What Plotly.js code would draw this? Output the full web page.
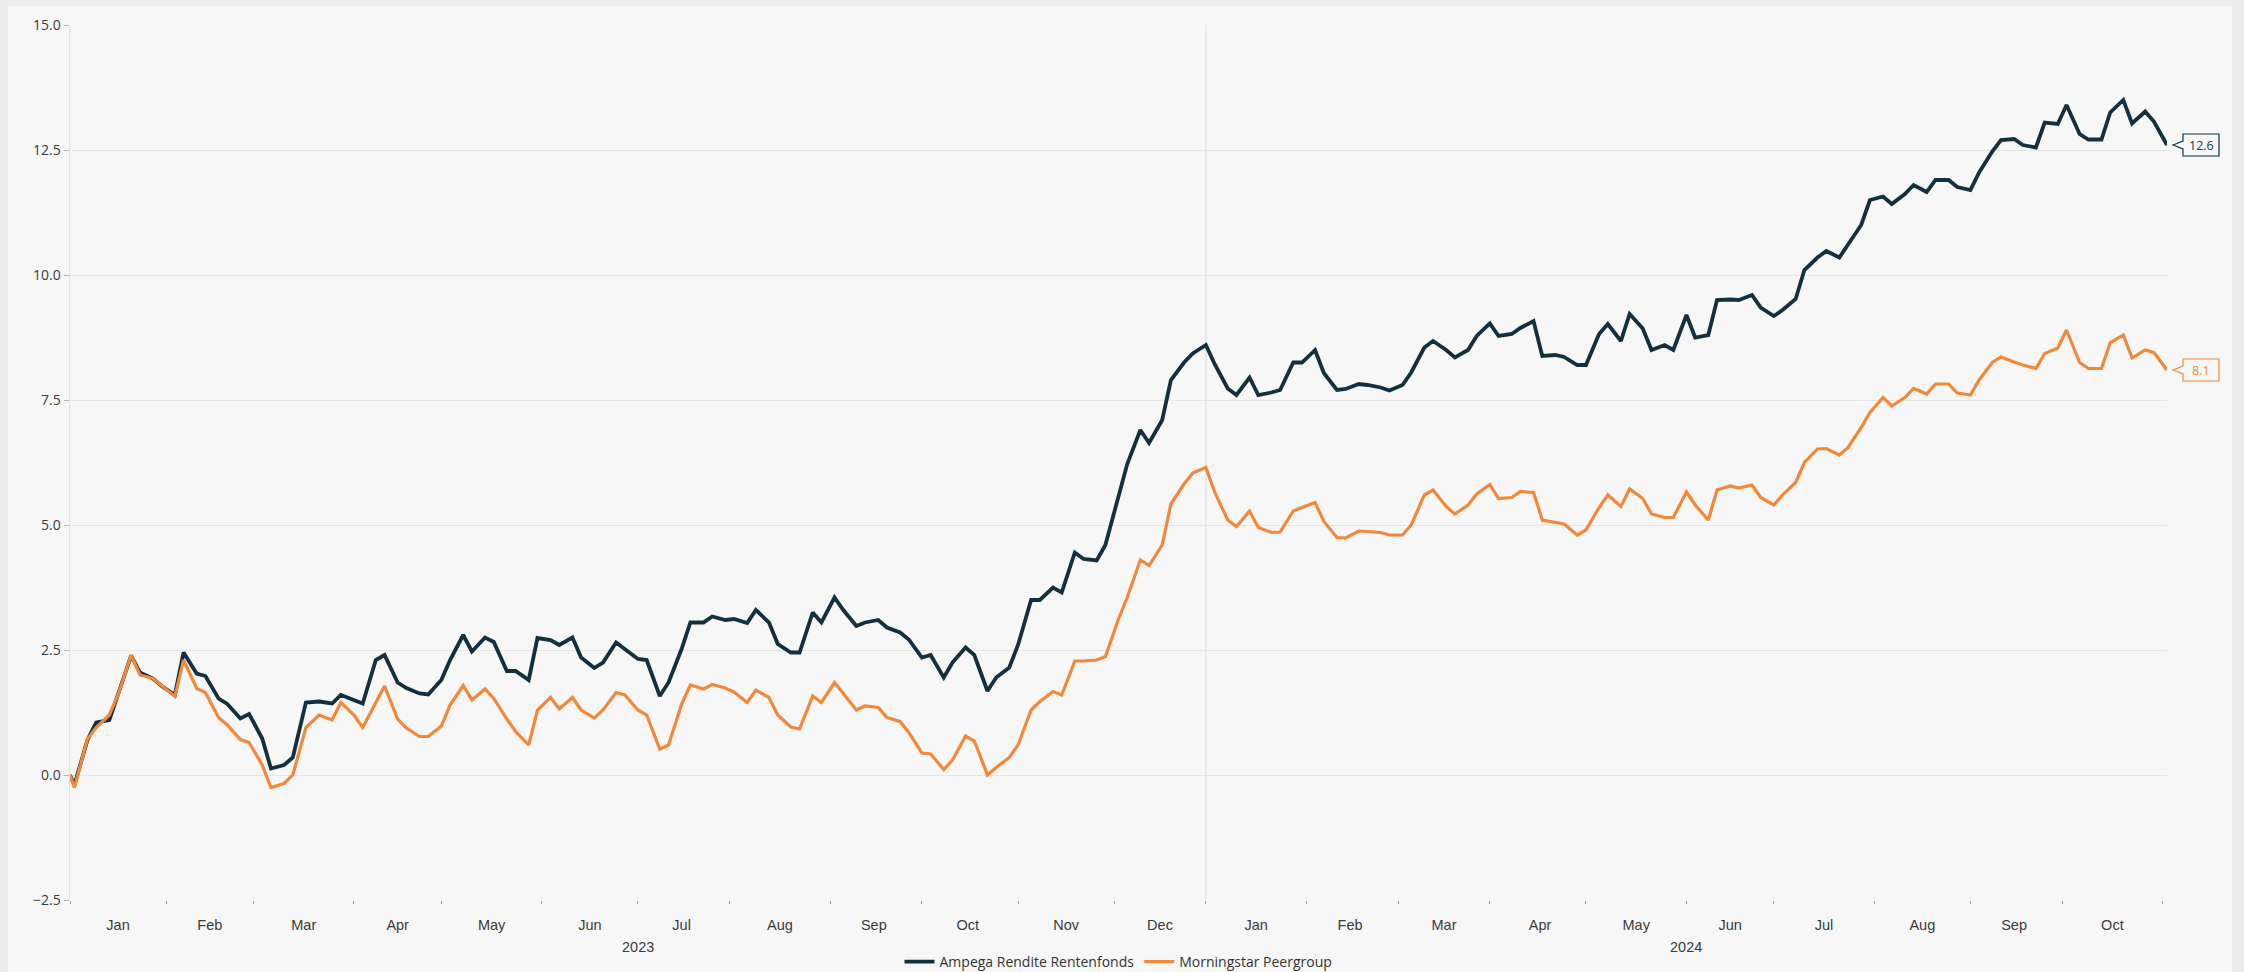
<!DOCTYPE html>
<html>
<head>
<meta charset="utf-8">
<script src="https://cdn.plot.ly/plotly-3.0.1.min.js"></script>
<style>
  html, body { margin: 0; padding: 0; background: #ebebeb; width: 2244px; height: 972px; overflow: hidden; }
  #chart { position: absolute; left: 8px; top: 6px; width: 2224px; height: 966px; }
</style>
</head>
<body>
<div id="chart"></div>
<script>
// Observation dates (weekdays)
const dates = [
  "2023-01-02","2023-01-03","2023-01-06","2023-01-10","2023-01-13","2023-01-17","2023-01-20","2023-01-24","2023-01-27",
  "2023-01-31","2023-02-03","2023-02-07","2023-02-10","2023-02-14","2023-02-17","2023-02-21","2023-02-24",
  "2023-02-28","2023-03-03","2023-03-07","2023-03-10","2023-03-14","2023-03-17",
  "2023-03-22","2023-03-27","2023-03-29","2023-04-03","2023-04-05","2023-04-10","2023-04-12","2023-04-17",
  "2023-04-19","2023-04-24","2023-04-26","2023-05-01","2023-05-03","2023-05-08","2023-05-10","2023-05-15",
  "2023-05-17","2023-05-22","2023-05-24","2023-05-29","2023-05-31","2023-06-05","2023-06-07","2023-06-12",
  "2023-06-14","2023-06-19","2023-06-21","2023-06-26","2023-06-28","2023-07-03","2023-07-05","2023-07-10",
  "2023-07-12","2023-07-17","2023-07-19","2023-07-24","2023-07-26","2023-07-31","2023-08-02","2023-08-07",
  "2023-08-09","2023-08-14","2023-08-16","2023-08-21","2023-08-23","2023-08-28","2023-08-30","2023-09-04",
  "2023-09-06","2023-09-11","2023-09-13","2023-09-18","2023-09-20","2023-09-25","2023-09-27","2023-10-02",
  "2023-10-04","2023-10-09","2023-10-11","2023-10-16","2023-10-18","2023-10-23","2023-10-25","2023-10-30",
  "2023-11-01","2023-11-06","2023-11-08","2023-11-13","2023-11-15","2023-11-20","2023-11-22","2023-11-27",
  "2023-11-29","2023-12-04","2023-12-06","2023-12-11","2023-12-13","2023-12-18","2023-12-20","2023-12-25",
  "2023-12-27","2024-01-01","2024-01-03","2024-01-08","2024-01-10","2024-01-15","2024-01-17","2024-01-22",
  "2024-01-24","2024-01-29","2024-01-31","2024-02-05","2024-02-07","2024-02-12","2024-02-14","2024-02-19",
  "2024-02-21","2024-02-26","2024-02-28","2024-03-04","2024-03-06","2024-03-11","2024-03-13","2024-03-18",
  "2024-03-20","2024-03-25","2024-03-27","2024-04-01","2024-04-03","2024-04-08","2024-04-10","2024-04-15",
  "2024-04-17","2024-04-22","2024-04-24","2024-04-29","2024-05-01","2024-05-06","2024-05-08","2024-05-13",
  "2024-05-15","2024-05-20","2024-05-22","2024-05-27","2024-05-29","2024-06-03","2024-06-05","2024-06-10",
  "2024-06-12","2024-06-17","2024-06-19","2024-06-24","2024-06-26","2024-07-01","2024-07-03","2024-07-08",
  "2024-07-10","2024-07-15","2024-07-17","2024-07-22","2024-07-24","2024-07-29","2024-07-31","2024-08-05",
  "2024-08-07","2024-08-12","2024-08-14","2024-08-19","2024-08-21","2024-08-26","2024-08-28","2024-09-02",
  "2024-09-04","2024-09-09","2024-09-11","2024-09-16","2024-09-18","2024-09-23","2024-09-25","2024-09-30",
  "2024-10-02","2024-10-07","2024-10-09","2024-10-14","2024-10-16","2024-10-21","2024-10-23","2024-10-28",
  "2024-10-30","2024-11-04"
];

// Cumulative performance in % – Ampega Rendite Rentenfonds
const ampega = [
  0.0,-0.2,0.7,1.05,1.1,1.62,2.39,2.05,1.93,
  1.78,1.6,2.45,2.03,1.98,1.53,1.42,1.13,
  1.22,0.73,0.13,0.2,0.35,1.45,
  1.47,1.43,1.6,1.5,1.43,2.3,2.4,1.85,
  1.74,1.63,1.61,1.9,2.3,2.8,2.47,2.75,
  2.66,2.08,2.08,1.9,2.74,2.7,2.6,2.75,
  2.35,2.14,2.25,2.65,2.52,2.32,2.3,1.58,
  1.85,2.52,3.05,3.05,3.17,3.1,3.12,3.04,
  3.3,3.05,2.62,2.45,2.45,3.25,3.05,3.55,
  3.3,2.98,3.05,3.1,2.95,2.85,2.71,2.35,
  2.4,1.95,2.25,2.55,2.4,1.68,1.95,2.15,
  2.6,3.5,3.5,3.75,3.65,4.45,4.32,4.29,
  4.6,5.55,6.22,6.9,6.64,7.1,7.9,8.25,
  8.43,8.6,8.22,7.73,7.6,7.95,7.6,7.65,
  7.7,8.25,8.25,8.5,8.04,7.7,7.72,7.82,
  7.8,7.75,7.69,7.8,8.05,8.55,8.68,8.5,
  8.35,8.5,8.78,9.03,8.78,8.82,8.94,9.08,
  8.38,8.4,8.36,8.2,8.2,8.82,9.02,8.68,
  9.22,8.93,8.5,8.6,8.5,9.2,8.75,8.8,
  9.5,9.51,9.5,9.6,9.35,9.18,9.3,9.52,
  10.1,10.35,10.48,10.35,10.6,11.0,11.5,11.57,
  11.42,11.62,11.8,11.66,11.9,11.9,11.76,11.7,
  12.05,12.47,12.7,12.72,12.6,12.55,13.05,13.02,
  13.4,12.82,12.71,12.71,13.25,13.5,13.03,13.27,
  13.07,12.6
];

// Cumulative performance in % – Morningstar Peergroup
const peergroup = [
  0.0,-0.25,0.72,0.95,1.2,1.6,2.4,2.0,1.93,
  1.78,1.57,2.3,1.73,1.65,1.15,1.0,0.71,
  0.65,0.2,-0.25,-0.17,0.0,0.95,
  1.2,1.1,1.45,1.2,0.95,1.45,1.78,1.12,
  0.94,0.77,0.77,0.98,1.4,1.79,1.5,1.72,
  1.53,1.12,0.87,0.6,1.3,1.55,1.32,1.55,
  1.3,1.14,1.3,1.65,1.6,1.3,1.2,0.52,
  0.6,1.42,1.8,1.72,1.81,1.74,1.66,1.45,
  1.7,1.55,1.2,0.96,0.92,1.58,1.45,1.85,
  1.62,1.3,1.38,1.35,1.15,1.07,0.85,0.44,
  0.42,0.11,0.3,0.78,0.68,0.0,0.15,0.35,
  0.6,1.3,1.47,1.67,1.6,2.28,2.28,2.3,
  2.37,3.12,3.55,4.3,4.19,4.6,5.42,5.82,
  6.04,6.15,5.66,5.1,4.97,5.28,4.95,4.85,
  4.86,5.28,5.35,5.45,5.07,4.75,4.74,4.88,
  4.87,4.85,4.8,4.8,5.0,5.6,5.7,5.37,
  5.22,5.4,5.62,5.81,5.53,5.55,5.67,5.65,
  5.1,5.06,5.02,4.8,4.9,5.35,5.6,5.37,
  5.72,5.53,5.22,5.15,5.15,5.66,5.4,5.1,
  5.7,5.78,5.74,5.8,5.55,5.4,5.6,5.85,
  6.25,6.52,6.53,6.4,6.55,6.95,7.25,7.55,
  7.38,7.55,7.73,7.62,7.82,7.82,7.64,7.6,
  7.9,8.25,8.36,8.26,8.2,8.13,8.43,8.54,
  8.9,8.25,8.13,8.13,8.65,8.8,8.34,8.5,
  8.45,8.1
];

const seriesNames = ["Ampega Rendite Rentenfonds", "Morningstar Peergroup"];

// Month boundaries (first weekday of each month) – tick marks
const monthStarts = [
  "2023-01-02","2023-02-01","2023-03-01","2023-04-03","2023-05-01","2023-06-01","2023-07-03","2023-08-01",
  "2023-09-01","2023-10-02","2023-11-01","2023-12-01","2024-01-01","2024-02-01","2024-03-01","2024-04-01",
  "2024-05-01","2024-06-03","2024-07-01","2024-08-01","2024-09-02","2024-10-01","2024-11-01"
];
// Month label positions (middle of each month's weekdays) and texts
const monthCenters = [
  "2023-01-17","2023-02-15","2023-03-16 12:00","2023-04-17","2023-05-16 12:00","2023-06-16","2023-07-17","2023-08-16 12:00",
  "2023-09-15","2023-10-16 12:00","2023-11-16","2023-12-15 12:00","2024-01-16 12:00","2024-02-15","2024-03-15 12:00","2024-04-16 12:00",
  "2024-05-16 12:00","2024-06-17","2024-07-16 12:00","2024-08-16","2024-09-16","2024-10-16 12:00"
];
const monthLabels = [
  "Jan","Feb","Mar","Apr","May","Jun","Jul","Aug","Sep","Oct","Nov","Dec",
  "Jan","Feb","Mar","Apr","May","Jun","Jul","Aug","Sep","Oct"
];
const yearLabels = ["2023", "2024"];
const yearCenters = ["2023-07-01", "2024-06-03"];
const yearDivider = "2024-01-01";

const yMin = -2.5, yMax = 15;

const navy = "#13303f";
const orange = "#f3873a";
const font = "'Open Sans', 'Liberation Sans', sans-serif";
const labelFont = "'Liberation Sans', Arial, sans-serif";

const firstDate = dates[0];
const lastDate = dates[dates.length - 1];
const lastA = ampega[ampega.length - 1];
const lastP = peergroup[peergroup.length - 1];

const traces = [
  { x: dates, y: ampega, name: seriesNames[0], type: "scatter", mode: "lines",
    line: { color: navy, width: 3.8, shape: "linear" } },
  { x: dates, y: peergroup, name: seriesNames[1], type: "scatter", mode: "lines",
    line: { color: orange, width: 3.2, shape: "linear" } }
];

// callout box at the end of each line (x anchored at right edge = last date)
function callout(yv, color) {
  return {
    type: "path", xref: "paper", yref: "paper", xsizemode: "pixel", ysizemode: "pixel",
    xanchor: 1, yanchor: (yv - yMin) / (yMax - yMin),
    path: "M 6,0 L 16,4 L 16,11 L 52,11 L 52,-11 L 16,-11 L 16,-4 Z",
    line: { color: color, width: 1.2 }, fillcolor: "#f7f7f7", layer: "above"
  };
}

const layout = {
  paper_bgcolor: "#f7f7f7",
  plot_bgcolor: "#f7f7f7",
  margin: { l: 62, r: 65, t: 19, b: 72, autoexpand: false },
  font: { family: font, size: 13, color: "#444" },
  hovermode: false,
  showlegend: true,
  legend: {
    orientation: "h", x: 0.5, xanchor: "center", y: -0.0709, yanchor: "middle",
    font: { family: font, size: 14, color: "#333" }, bgcolor: "rgba(0,0,0,0)"
  },
  xaxis: {
    type: "date",
    range: [firstDate, lastDate],
    rangebreaks: [{ bounds: ["sat", "mon"] }],
    tickmode: "array", tickvals: monthCenters, ticktext: monthLabels,
    ticks: "", ticklabelstandoff: 14,
    minor: { tickmode: "array", tickvals: monthStarts, ticks: "outside", ticklen: 3,
             tickwidth: 1, tickcolor: "#9a9a9a", showgrid: false },
    showgrid: false, zeroline: false, showline: false,
    tickfont: { family: labelFont, size: 14.5, color: "#3a3a3a" }
  },
  yaxis: {
    range: [yMin, yMax], dtick: 2.5, tick0: 0, tickformat: ".1f",
    showgrid: true, gridcolor: "#e6e6e6", gridwidth: 1, zeroline: false,
    showline: true, linecolor: "#e2e2e2", linewidth: 1.5,
    ticks: "outside", ticklen: 5, tickcolor: "#b5b5b5",
    tickfont: { family: font, size: 14, color: "#3a3a3a" }
  },
  shapes: [
    { type: "line", xref: "x", yref: "paper", x0: yearDivider, x1: yearDivider, y0: 0, y1: 1,
      line: { color: "#e2e2e2", width: 1.2 }, layer: "below" },
    callout(lastA, navy),
    callout(lastP, orange)
  ],
  annotations: [
    { x: yearCenters[0], y: 0, xref: "x", yref: "paper", yshift: -47, yanchor: "middle",
      text: yearLabels[0], showarrow: false, font: { family: labelFont, size: 14.5, color: "#3a3a3a" } },
    { x: yearCenters[1], y: 0, xref: "x", yref: "paper", yshift: -47, yanchor: "middle",
      text: yearLabels[1], showarrow: false, font: { family: labelFont, size: 14.5, color: "#3a3a3a" } },
    { x: 1, y: lastA, xref: "paper", yref: "y", xanchor: "center", xshift: 34,
      text: lastA.toFixed(1), showarrow: false, font: { family: font, size: 12.5, color: "#333" } },
    { x: 1, y: lastP, xref: "paper", yref: "y", xanchor: "center", xshift: 34,
      text: lastP.toFixed(1), showarrow: false, font: { family: font, size: 12.5, color: orange } }
  ]
};

Plotly.newPlot("chart", traces, layout, { displayModeBar: false, staticPlot: true });
</script>
</body>
</html>
